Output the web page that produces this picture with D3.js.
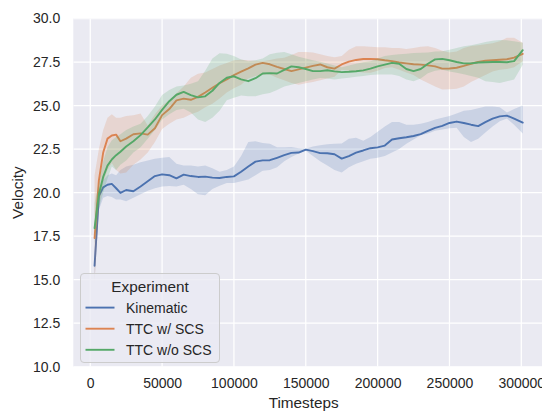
<!DOCTYPE html>
<html>
<head>
<meta charset="utf-8">
<script src="https://cdn.jsdelivr.net/npm/d3@7"></script>
<style>
  html, body { margin: 0; padding: 0; background: #ffffff; }
  svg { display: block; }
  text { font-family: "Liberation Sans", Arial, "DejaVu Sans", sans-serif; fill: #262626; }
</style>
</head>
<body>
<svg id="chart" width="542" height="412"></svg>
<script>
// Training steps at which the velocity was evaluated
const steps = [3000, 6000, 9000, 12000, 15000, 18000, 21000, 25000, 30000, 35000, 40000, 45000,
  50000, 55000, 60000, 65000, 70000, 75000, 80000, 85000, 90000, 95000, 100000, 105000, 110000,
  115000, 120000, 125000, 130000, 135000, 140000, 145000, 150000, 155000, 160000, 165000, 170000,
  175000, 180000, 185000, 190000, 195000, 200000, 205000, 210000, 215000, 220000, 225000, 230000,
  235000, 240000, 245000, 250000, 255000, 260000, 265000, 270000, 275000, 280000, 285000, 290000,
  295000, 301000];

// Kinematic: mean velocity and confidence band
const kinematicMean = [15.8, 19.8, 20.3, 20.45, 20.5, 20.25, 19.98, 20.15, 20.08, 20.35, 20.65, 20.95,
  21.05, 21.0, 20.82, 21.03, 20.95, 20.9, 20.92, 20.86, 20.84, 20.9, 20.93, 21.2, 21.5,
  21.78, 21.85, 21.86, 22.0, 22.15, 22.28, 22.3, 22.47, 22.38, 22.27, 22.26, 22.2,
  21.95, 22.1, 22.3, 22.42, 22.55, 22.6, 22.7, 23.05, 23.12, 23.18, 23.25, 23.36,
  23.55, 23.72, 23.83, 24.0, 24.08, 24.0, 23.9, 23.82, 24.05, 24.25, 24.38, 24.42,
  24.25, 24.02];
const kinematicLow = [15.0, 19.0, 19.7, 19.8, 19.75, 19.6, 19.6, 19.5, 19.7, 19.9, 20.1, 20.25,
  20.35, 20.38, 20.35, 20.45, 20.2, 19.9, 19.85, 20.2, 20.4, 20.55, 20.55, 20.65, 20.75,
  21.0, 21.25, 21.3, 21.45, 21.8, 22.05, 22.25, 22.4, 22.1, 21.8, 21.55, 21.3,
  21.16, 21.45, 21.65, 21.8, 21.95, 22.0, 22.1, 22.3, 22.5, 22.8, 23.05, 23.3,
  23.4, 23.55, 23.62, 23.7, 23.72, 23.2, 22.9, 23.1, 23.45, 23.8, 24.1, 24.25,
  23.9, 23.4];
const kinematicHigh = [16.6, 20.2, 20.7, 21.0, 21.1, 21.0, 21.3, 21.5, 21.6, 21.75, 21.85, 21.95,
  22.0, 22.05, 21.65, 21.55, 21.55, 21.5, 21.55, 21.4, 21.2, 21.3, 21.5, 22.1, 22.9,
  22.95, 22.85, 22.8, 22.6, 22.6, 22.62, 22.55, 22.52, 22.65, 22.72, 22.78, 22.8,
  22.82, 23.1, 23.15, 22.98, 23.2, 23.5, 23.8, 24.05, 24.05, 23.9, 23.9, 23.95,
  24.05, 24.2, 24.3, 24.4, 24.55, 24.7, 24.75, 24.85, 24.95, 24.95, 24.9, 24.6,
  24.8, 25.0];

// TTC with SCS
const ttcScsMean = [17.39, 20.7, 22.3, 23.1, 23.28, 23.33, 22.95, 23.1, 23.35, 23.4, 23.33, 23.7,
  24.45, 24.8, 25.3, 25.4, 25.33, 25.5, 25.75, 26.02, 26.28, 26.5, 26.75, 26.95, 27.14,
  27.35, 27.45, 27.37, 27.22, 27.1, 26.98, 27.08, 27.18, 27.28, 27.36, 27.2, 27.12,
  27.36, 27.52, 27.62, 27.67, 27.68, 27.66, 27.6, 27.55, 27.47, 27.42, 27.37, 27.35,
  27.31, 27.25, 27.12, 27.13, 27.17, 27.28, 27.4, 27.5, 27.57, 27.6, 27.63, 27.66,
  27.75, 27.97];
const ttcScsLow = [14.8, 19.2, 20.6, 21.3, 21.7, 21.3, 21.1, 21.15, 21.6, 21.9, 22.3, 22.9,
  23.65, 23.95, 24.2, 24.3, 24.5, 24.65, 24.9, 25.1, 25.4, 25.75, 26.0, 26.2, 26.55,
  26.7, 26.78, 26.78, 26.6, 26.45, 26.3, 26.2, 26.28, 26.35, 26.45, 26.55, 26.65,
  27.05, 27.0, 26.95, 26.9, 26.88, 27.0, 27.15, 27.2, 27.05, 26.9, 26.75, 26.5,
  26.3, 26.1, 25.92, 25.93, 25.96, 26.1, 26.35, 26.55, 26.75, 26.95, 27.05, 27.1,
  27.2, 27.55];
const ttcScsHigh = [21.0, 22.5, 23.6, 24.3, 24.5, 24.3, 24.3, 24.4, 24.45, 24.55, 23.85, 24.5,
  25.0, 25.3, 25.7, 26.1, 26.6, 26.82, 26.9, 27.1, 27.3, 27.45, 27.6, 27.63, 27.6,
  27.58, 27.55, 27.62, 27.7, 27.75, 27.9, 28.07, 28.07, 28.05, 27.95, 27.85, 27.78,
  27.85, 28.2, 28.4, 28.4, 28.38, 28.35, 28.35, 28.3, 28.3, 28.25, 28.3, 28.38,
  28.4, 28.3, 28.15, 28.05, 28.1, 28.3, 28.42, 28.47, 28.52, 28.58, 28.7, 28.9,
  28.9, 28.6];

// TTC without SCS
const ttcNoScsMean = [17.96, 19.9, 20.9, 21.55, 21.9, 22.15, 22.35, 22.65, 22.95, 23.3, 23.75, 24.2,
  24.75, 25.25, 25.62, 25.78, 25.6, 25.47, 25.53, 25.85, 26.3, 26.6, 26.68, 26.5, 26.4,
  26.57, 26.84, 26.86, 26.84, 27.05, 27.25, 27.2, 27.1, 26.98, 26.98, 27.03, 26.96,
  26.92, 26.94, 26.97, 27.02, 27.12, 27.25, 27.35, 27.45, 27.4, 27.1, 26.98, 27.1,
  27.4, 27.65, 27.68, 27.6, 27.5, 27.42, 27.42, 27.47, 27.49, 27.5, 27.5, 27.49,
  27.55, 28.18];
const ttcNoScsLow = [17.0, 19.1, 20.0, 20.8, 21.5, 21.3, 21.6, 21.85, 22.3, 22.6, 23.1, 23.6,
  24.2, 24.5, 24.75, 24.82, 24.6, 24.2, 24.05, 24.3, 24.7, 25.3, 25.45, 25.58, 25.54,
  25.54, 25.65, 25.72, 25.9, 26.1, 26.2, 26.3, 26.4, 26.5, 26.58, 26.56, 26.5,
  26.55, 26.6, 26.65, 26.7, 26.75, 26.78, 26.78, 26.78, 26.7, 26.5, 26.4, 26.55,
  26.85, 27.0, 27.05, 26.95, 26.88, 26.8, 26.7, 26.6, 26.4, 26.35, 26.3, 26.4,
  26.5, 27.35];
const ttcNoScsHigh = [19.4, 20.6, 21.8, 22.6, 23.0, 23.2, 23.35, 23.6, 23.8, 23.95, 24.4, 24.95,
  25.6, 25.9, 26.1, 26.15, 26.25, 26.4, 27.0, 27.7, 28.0, 27.97, 27.85, 27.65, 27.55,
  27.6, 27.7, 27.95, 28.03, 28.07, 27.95, 27.8, 27.7, 27.6, 27.52, 27.42, 27.3,
  27.2, 27.3, 27.4, 27.48, 27.55, 27.7, 27.85, 27.9, 27.95, 27.98, 28.02, 28.03,
  28.05, 28.1, 28.12, 28.2, 28.3, 28.4, 28.47, 28.55, 28.65, 28.72, 28.76, 28.75,
  28.7, 28.6];

const seriesNames = ["Kinematic", "TTC w/ SCS", "TTC w/o SCS"];
const seriesColors = ["#4c72b0", "#dd8452", "#55a868"];
const xTicks = [0, 50000, 100000, 150000, 200000, 250000, 300000];
const yTicks = [10.0, 12.5, 15.0, 17.5, 20.0, 22.5, 25.0, 27.5, 30.0];

const series = [
  { name: seriesNames[0], color: seriesColors[0], mean: kinematicMean, low: kinematicLow, high: kinematicHigh },
  { name: seriesNames[1], color: seriesColors[1], mean: ttcScsMean, low: ttcScsLow, high: ttcScsHigh },
  { name: seriesNames[2], color: seriesColors[2], mean: ttcNoScsMean, low: ttcNoScsLow, high: ttcNoScsHigh }
];

const svg = d3.select("#chart");
const plot = { left: 73.3, top: 18.5, right: 545, bottom: 366.7 };

const x = d3.scaleLinear().domain([-11800, 316500]).range([plot.left, plot.right]);
const y = d3.scaleLinear().domain([10, 30]).range([plot.bottom, plot.top]);

const defs = svg.append("defs");
defs.append("clipPath").attr("id", "plot-clip")
  .append("rect")
  .attr("x", plot.left).attr("y", plot.top)
  .attr("width", plot.right - plot.left).attr("height", plot.bottom - plot.top);

// Axes background
svg.append("rect")
  .attr("x", plot.left).attr("y", plot.top)
  .attr("width", plot.right - plot.left).attr("height", plot.bottom - plot.top)
  .attr("fill", "#eaeaf2");

// White grid lines
const grid = svg.append("g").attr("clip-path", "url(#plot-clip)");
grid.selectAll("line.gx").data(xTicks).enter().append("line")
  .attr("x1", d => x(d)).attr("x2", d => x(d))
  .attr("y1", plot.top).attr("y2", plot.bottom)
  .attr("stroke", "#ffffff").attr("stroke-width", 1.25);
grid.selectAll("line.gy").data(yTicks).enter().append("line")
  .attr("y1", d => y(d)).attr("y2", d => y(d))
  .attr("x1", plot.left).attr("x2", plot.right)
  .attr("stroke", "#ffffff").attr("stroke-width", 1.25);

// Axes (labels only, no tick marks or spines)
const xAxis = svg.append("g")
  .attr("transform", `translate(0,${plot.bottom})`)
  .call(d3.axisBottom(x).tickValues(xTicks).tickFormat(d3.format("d")).tickSize(0).tickPadding(11));
const yAxis = svg.append("g")
  .attr("transform", `translate(${plot.left},0)`)
  .call(d3.axisLeft(y).tickValues(yTicks).tickFormat(d3.format(".1f")).tickSize(0).tickPadding(13));
[xAxis, yAxis].forEach(g => {
  g.select(".domain").remove();
  g.selectAll("text")
    .style("font-size", "14px")
    .style("font-family", "'Liberation Sans', Arial, sans-serif")
    .attr("fill", "#262626");
});

// Lines and confidence bands
const marks = svg.append("g").attr("clip-path", "url(#plot-clip)");
const lineGen = d3.line().x((d, i) => x(steps[i])).y(d => y(d));
series.forEach(s => {
  marks.append("path")
    .datum(s.mean)
    .attr("d", lineGen)
    .attr("fill", "none")
    .attr("stroke", s.color)
    .attr("stroke-width", 1.9)
    .attr("stroke-linejoin", "round")
    .attr("stroke-linecap", "round");
  const area = d3.area()
    .x((d, i) => x(steps[i]))
    .y0((d, i) => y(s.low[i]))
    .y1((d, i) => y(s.high[i]));
  marks.append("path")
    .datum(s.mean)
    .attr("d", area)
    .attr("fill", s.color)
    .attr("fill-opacity", 0.2)
    .attr("stroke", "none");
});

// Axis titles
svg.append("text")
  .attr("x", (plot.left + 520) / 2 + 7)
  .attr("y", 408)
  .attr("text-anchor", "middle")
  .style("font-size", "15.3px")
  .text("Timesteps");
svg.append("text")
  .attr("transform", `translate(23,${(plot.top + plot.bottom) / 2}) rotate(-90)`)
  .attr("text-anchor", "middle")
  .style("font-size", "15.3px")
  .text("Velocity");

// Legend
const legend = svg.append("g");
legend.append("rect")
  .attr("x", 80.5).attr("y", 273.5)
  .attr("width", 139).attr("height", 89)
  .attr("rx", 3.5)
  .attr("fill", "#eaeaf2").attr("fill-opacity", 0.8)
  .attr("stroke", "#cccccc").attr("stroke-width", 1);
legend.append("text")
  .attr("x", 150).attr("y", 291.5)
  .attr("text-anchor", "middle")
  .style("font-size", "15.3px")
  .text("Experiment");
series.forEach((s, i) => {
  const yy = 307.6 + i * 21.1;
  legend.append("line")
    .attr("x1", 85.5).attr("x2", 114.5)
    .attr("y1", yy).attr("y2", yy)
    .attr("stroke", s.color).attr("stroke-width", 1.9);
  legend.append("text")
    .attr("x", 126).attr("y", yy + 5)
    .style("font-size", "14px")
    .text(s.name);
});
</script>
</body>
</html>
